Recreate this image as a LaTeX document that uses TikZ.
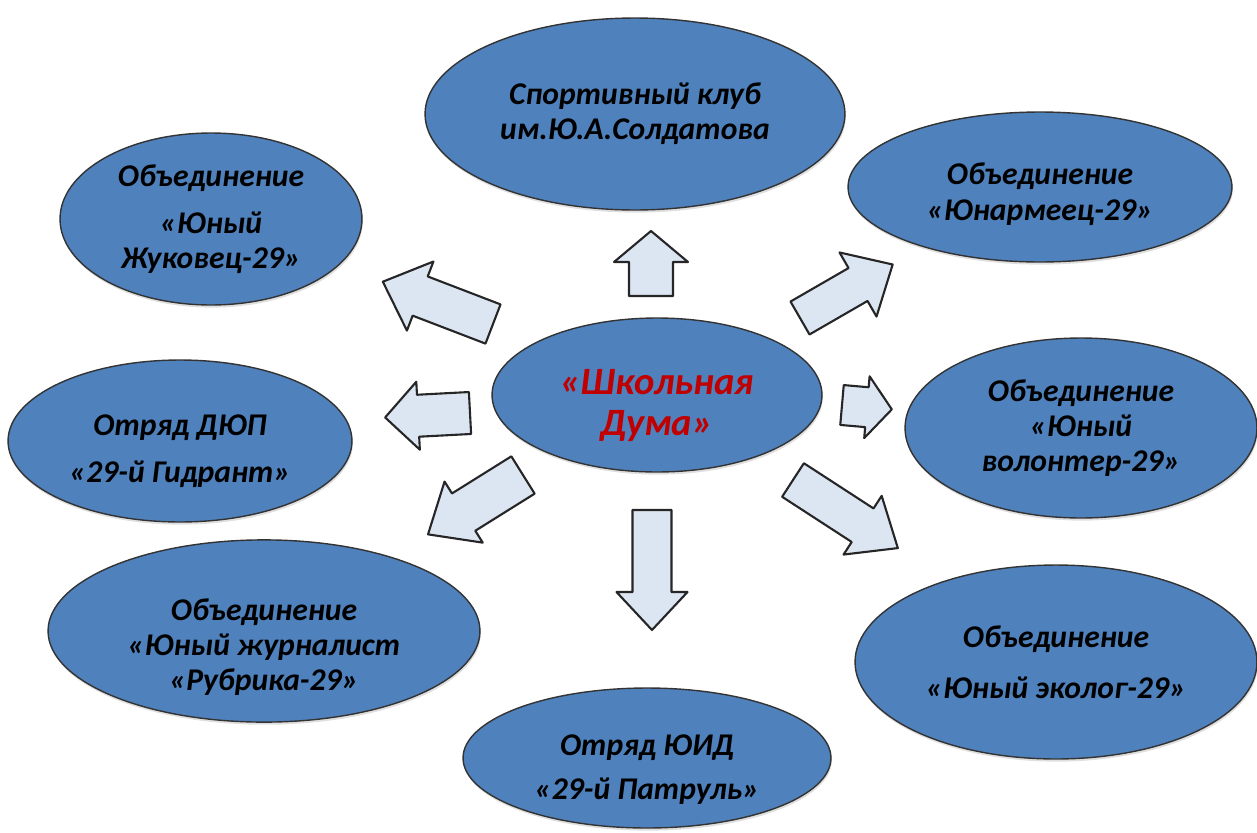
\documentclass[tikz,border=0pt]{standalone}
\usepackage{fontspec}
\setmainfont{Carlito}
\usetikzlibrary{shapes.geometric,shadows}
\definecolor{clubblue}{RGB}{79,129,189}
\definecolor{arrowfill}{RGB}{220,230,242}
\definecolor{dumared}{RGB}{192,0,0}
\newcommand\lowr[1]{\rule{0pt}{#1}}
\tikzset{
  club/.style={ellipse, draw=black!80, line width=0.8pt, fill=clubblue,
    inner sep=0pt, align=center,
    font=\fontsize{18}{20}\selectfont\bfseries\itshape,
    drop shadow={opacity=0.25, shadow xshift=0.5pt, shadow yshift=-1.5pt}},
  blockarr/.style={draw=black!85, line width=1.2pt, fill=arrowfill,
    line join=round},
}
\begin{document}
\begin{tikzpicture}[x=0.02cm, y=-0.02cm]
  \useasboundingbox (0,0) rectangle (1257,832);
  % clubs round the council
  \node[club, minimum width=8.4cm, minimum height=3.84cm] (sport) at (635,114)
    {Спортивный клуб\\им.Ю.А.Солдатова};
  \node[club, minimum width=6.04cm, minimum height=3.44cm] (zhuk) at (211,219)
    {Объединение\\[7pt]«Юный\\Жуковец-29»};
  \node[club, minimum width=7.68cm, minimum height=3.0cm] (yunarm) at (1040,187)
    {\lowr{20.5pt}Объединение\\«Юнармеец-29»};
  \node[club, minimum width=6.88cm, minimum height=3.24cm] (dyup) at (180,441)
    {\lowr{23.5pt}Отряд ДЮП\\[7pt]«29-й Гидрант»};
  \node[club, minimum width=7.04cm, minimum height=3.6cm] (volont) at (1081,428)
    {Объединение\\«Юный\\волонтер-29»};
  \node[club, minimum width=8.64cm, minimum height=3.64cm] (zhurn) at (264,631)
    {\lowr{30.5pt}Объединение\\«Юный журналист\\«Рубрика-29»};
  \node[club, minimum width=8.04cm, minimum height=3.88cm] (ekolog) at (1056,662)
    {Объединение\\[9pt]«Юный эколог-29»};
  \node[club, minimum width=7.36cm, minimum height=2.8cm] (yuid) at (647,758)
    {\lowr{25pt}Отряд ЮИД\\[5pt]«29-й Патруль»};
  % the council itself
  \node[club, minimum width=6.6cm, minimum height=3.08cm, text=dumared,
    font=\fontsize{22}{23}\selectfont\bfseries\itshape] (duma) at (657,395)
    {\lowr{26pt}«Школьная\\Дума»};
  % block arrows: tail x/y, angle, length, half shaft, half head, head length
  \foreach \x/\y/\a/\l/\w/\hw/\hl in {
      651/296/90/65/22/37/31, 493/324/159/118/21/37/40,
      800/318/30/107/19/37/40, 470/413/183/85/21/34/33,
      842/405/-5/50/20/31/25, 523/475/212/112/22/36/42,
      652/510/270/120/19.5/35.5/38, 793/480/-33/125/20/35/42} {
    \begin{scope}[shift={(\x,\y)}, rotate=\a]
      \draw[blockarr] (0,-\w) -- (\l-\hl,-\w) -- (\l-\hl,-\hw) -- (\l,0)
        -- (\l-\hl,\hw) -- (\l-\hl,\w) -- (0,\w) -- cycle;
    \end{scope}
  }
\end{tikzpicture}
\end{document}
